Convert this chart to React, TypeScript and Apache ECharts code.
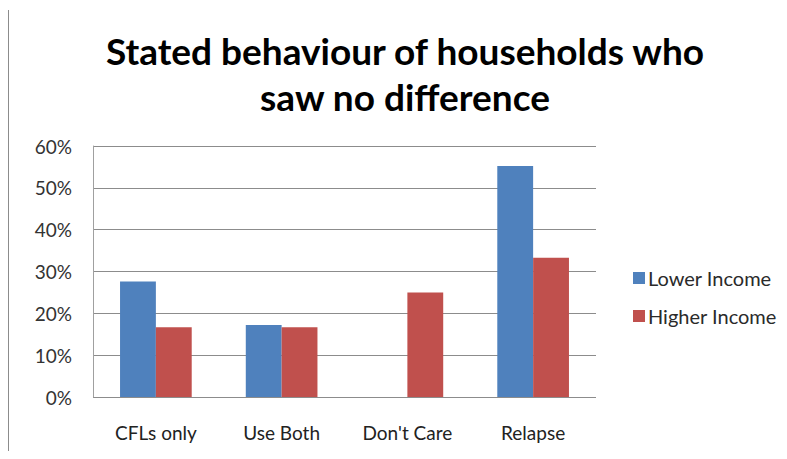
import React, { useEffect, useRef } from "react";
import * as echarts from "echarts";

const categories = ["CFLs only", "Use Both", "Don't Care", "Relapse"];
const lowerIncome = [27.6, 17.2, 0, 55.2];
const higherIncome = [16.7, 16.7, 25.0, 33.3];
const seriesNames = ["Lower Income", "Higher Income"];
const titleLines = ["Stated behaviour of households who", "saw no difference"];

const FONT = "Lato, 'Open Sans', sans-serif";

export default function App() {
  const ref = useRef<HTMLDivElement>(null);

  useEffect(() => {
    if (!ref.current) return;
    const chart = echarts.init(ref.current, undefined, { renderer: "svg" });
    chart.setOption({
      animation: false,
      backgroundColor: "#ffffff",
      title: {
        text: titleLines.join("\n"),
        left: 400,
        top: 22,
        textAlign: "center",
        textStyle: {
          fontFamily: FONT,
          fontWeight: "bold",
          fontSize: 37,
          lineHeight: 46,
          color: "#000000",
        },
      },
      graphic: [
        {
          type: "line",
          shape: { x1: 8, y1: 10, x2: 8, y2: 459 },
          style: { stroke: "#8c8c8c", lineWidth: 2 },
        },
      ],
      legend: {
        orient: "vertical",
        left: 628,
        top: 263,
        itemWidth: 12,
        itemHeight: 12,
        itemGap: 18,
        icon: "rect",
        textStyle: { fontFamily: FONT, fontSize: 20, color: "#2a2a2a", padding: [0, 0, 0, -2] },
        data: seriesNames,
      },
      grid: { left: 93, right: 191, top: 146, bottom: 62 },
      xAxis: {
        type: "category",
        data: categories,
        axisLine: { show: false },
        axisTick: { show: false },
        axisLabel: { fontFamily: FONT, fontSize: 19, color: "#222222", margin: 26 },
      },
      yAxis: {
        type: "value",
        min: 0,
        max: 60,
        interval: 10,
        axisLine: { show: true, lineStyle: { color: "#a0a0a0", width: 1 } },
        axisTick: { show: false },
        axisLabel: {
          fontFamily: FONT,
          fontSize: 19,
          color: "#333333",
          margin: 21,
          formatter: (v: number) => `${v}%`,
        },
        splitLine: { lineStyle: { color: "#8c8c8c", width: 1 } },
      },
      series: [
        {
          name: seriesNames[0],
          type: "bar",
          data: lowerIncome,
          itemStyle: { color: "#4f81bd" },
          barGap: "0%",
          barCategoryGap: "43%",
        },
        {
          name: seriesNames[1],
          type: "bar",
          data: higherIncome,
          itemStyle: { color: "#c0504d" },
          barGap: "0%",
          barCategoryGap: "43%",
        },
      ],
    });
    return () => chart.dispose();
  }, []);

  return <div ref={ref} style={{ width: 787, height: 459, margin: -8 }} />;
}
